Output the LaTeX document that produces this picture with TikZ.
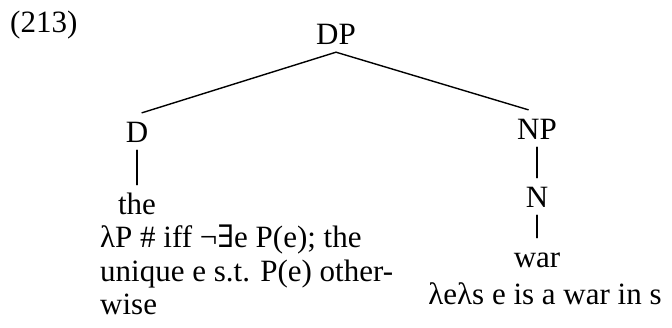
\documentclass[tikz,border=0pt]{standalone}
\usepackage{fontspec}
\setmainfont{Liberation Serif}
\newfontfamily\symfont{DejaVu Serif}
\begin{document}
\begin{tikzpicture}[x=1pt,y=1pt,line join=round,line cap=round,
    every node/.style={font=\fontsize{31}{33.5}\selectfont,inner sep=0pt},
    cat/.style={text height=30pt,text depth=7pt},
    branch/.style={line width=1.4pt}]
    \useasboundingbox (0,0) rectangle (672,328);
    \node[anchor=base west] (num) at (10,295) {(213)};
    \node[cat,anchor=base] (dp) at (336,283) {DP};
    \node[cat,anchor=base] (d) at (137,185) {D};
    \node[cat,anchor=base] (np) at (537,188) {NP};
    \node[cat,anchor=base] (n) at (537,120) {N};
    \node[cat,anchor=base] (the) at (137,113) {the};
    \node[cat,anchor=base] (war) at (537,60) {war};
    % last line of the block sits on the base anchor
    \node[anchor=base west,align=left] (thesem) at (100,13)
        {λP \# iff ¬{\symfont ∃}e P(e); the\\unique e s.t. P(e) other-\\wise};
    \node[anchor=base] (warsem) at (545,23) {λeλs e is a war in s};
    \draw[branch] (dp.south) -- (d.75);
    \draw[branch] (dp.south) -- (np.115);
    \draw[branch] (d.south) -- (the.north);
    \draw[branch] (np.south) -- (n.north);
    \draw[branch] (n.south) -- (war.north);
\end{tikzpicture}
\end{document}
